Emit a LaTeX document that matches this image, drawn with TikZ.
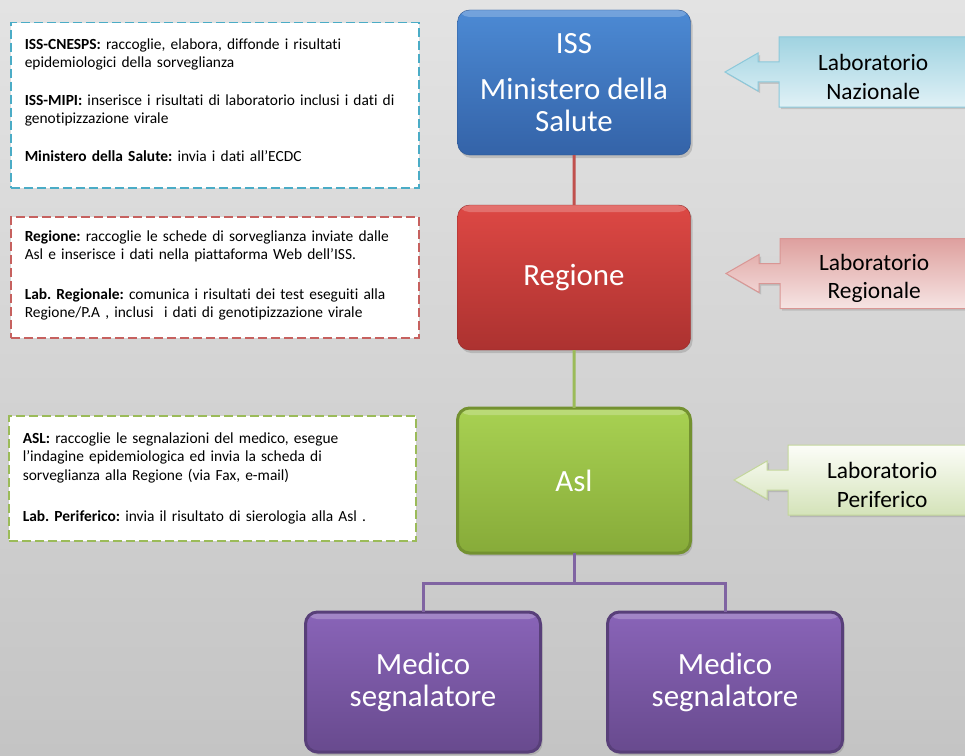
\documentclass[tikz,border=0pt]{standalone}
\usepackage{fontspec}
\setmainfont{Carlito}[Ligatures=NoCommon]
\usepackage{tikz}
\usetikzlibrary{arrows.meta, positioning, trees, shadows}
\frenchspacing

\definecolor{bgtop}{RGB}{227,227,227}
\definecolor{bgbot}{RGB}{196,196,196}
\definecolor{isstop}{RGB}{76,138,212}
\definecolor{issbot}{RGB}{52,99,168}
\definecolor{regtop}{RGB}{221,72,68}
\definecolor{regbot}{RGB}{172,50,48}
\definecolor{asltop}{RGB}{168,209,82}
\definecolor{aslbot}{RGB}{135,171,57}
\definecolor{medtop}{RGB}{137,100,184}
\definecolor{medbot}{RGB}{104,74,142}
\definecolor{redline}{RGB}{192,80,77}
\definecolor{greenline}{RGB}{155,187,89}
\definecolor{purpline}{RGB}{128,100,162}
\definecolor{cyanline}{RGB}{75,172,198}
\definecolor{nazA}{RGB}{224,241,246}
\definecolor{nazB}{RGB}{160,211,225}
\definecolor{nazline}{RGB}{140,200,218}
\definecolor{regA}{RGB}{246,228,228}
\definecolor{regB}{RGB}{222,160,158}
\definecolor{pinkline}{RGB}{217,150,148}
\definecolor{perA}{RGB}{252,253,248}
\definecolor{perB}{RGB}{212,227,185}
\definecolor{limeline}{RGB}{195,214,155}

\begin{document}
\begin{tikzpicture}[x=1bp, y=-1bp,
    bigbox/.style={rectangle, rounded corners=12bp, minimum width=233bp, minimum height=145bp,
        align=center, text=white, font=\fontsize{31}{32}\selectfont,
        drop shadow={opacity=.35, shadow xshift=2bp, shadow yshift=-3bp},
        path picture={\fill[white, opacity=.22] (path picture bounding box.north west)
            rectangle ([yshift=-7bp]path picture bounding box.north east);}},
    issbox/.style={bigbox, draw=issbot!85!black, top color=isstop, bottom color=issbot},
    regbox/.style={bigbox, draw=regbot!85!black, top color=regtop, bottom color=regbot},
    aslbox/.style={bigbox, draw=aslbot!85!black, top color=asltop, bottom color=aslbot},
    medbox/.style={bigbox, minimum width=235bp, minimum height=140bp, draw=medbot!85!black,
        top color=medtop, bottom color=medbot},
    note/.style={rectangle, fill=white, line width=1.5bp, dash pattern=on 9bp off 4bp,
        anchor=north west, align=left, inner xsep=14bp, text width=380bp,
        font=\fontsize{15.5}{18.5}\selectfont},
    callout/.style={line width=1bp, drop shadow={opacity=.3, shadow xshift=2bp, shadow yshift=-2bp}},
    nazcall/.style={draw=nazline, top color=nazB, bottom color=nazA},
    regcall/.style={draw=pinkline, top color=regB, bottom color=regA},
    percall/.style={draw=limeline, top color=perA, bottom color=perB},
    labtext/.style={minimum width=188bp, minimum height=70bp, inner sep=0pt, align=center,
        font=\fontsize{23.5}{28.5}\selectfont},
    level 1/.style={level distance=195bp, edge from parent/.style={draw=redline, line width=3bp}},
    level 2/.style={level distance=203bp, edge from parent/.style={draw=greenline, line width=3bp}},
    level 3/.style={level distance=201.5bp, sibling distance=302bp,
        edge from parent/.style={draw=purpline, line width=3bp},
        edge from parent path={(\tikzparentnode.south) -- ++(0,30) -| (\tikzchildnode.north)}}]

% background
\useasboundingbox (0,0) rectangle (965,756);
\fill[top color=bgtop, bottom color=bgbot] (0,0) rectangle (965,756);

% notes on the left
\node[note, draw=cyanline, minimum height=165bp, execute at end node={\par\vspace*{10bp}}] (issnote) at (10,22)
    {\textbf{ISS-CNESPS:} raccoglie, elabora, diffonde i risultati\\
     epidemiologici della sorveglianza\\[19.5bp]
     \textbf{ISS-MIPI:} inserisce i risultati di laboratorio inclusi i dati di\\
     genotipizzazione virale\\[19.5bp]
     \textbf{Ministero della Salute:} invia i dati all’ECDC};
\node[note, draw=redline!90!white, minimum height=121bp, execute at end node={\par\vspace*{4bp}}] (regnote) at (10,216)
    {\textbf{Regione:} raccoglie le schede di sorveglianza inviate dalle\\
     Asl e inserisce i dati nella piattaforma Web dell’ISS.\\[21bp]
     \textbf{Lab. Regionale:} comunica i risultati dei test eseguiti alla\\
     Regione/P.A , inclusi~ i dati di genotipizzazione virale};
\node[note, draw=greenline, minimum height=125bp, text width=379bp] (aslnote) at (8,415)
    {\textbf{ASL:} raccoglie le segnalazioni del medico, esegue\\
     l’indagine epidemiologica ed invia la scheda di\\
     sorveglianza alla Regione (via Fax, e-mail)\\[23bp]
     \textbf{Lab. Periferico:} invia il risultato di sierologia alla Asl .};

% the chain
\node[issbox] (iss) at (574,82.5) {ISS\\[15bp]Ministero della\\Salute}
    child {node[regbox] (regione) {Regione}
        child {node[aslbox] (asl) {Asl}
            child {node[medbox] (medico1) {Medico\\segnalatore}}
            child {node[medbox] (medico2) {Medico\\segnalatore}}
        }
    };

% laboratories
\foreach \lab/\xx/\yy/\tint/\txt in {naz/779/72/nazcall/{Laboratorio\\Nazionale},
        reg/780/273.5/regcall/{Laboratorio\\Regionale},
        per/788/480/percall/{Laboratorio\\Periferico}} {
    \coordinate (\lab) at (\xx,\yy);
    \draw[callout, \tint] (\lab) ++(0,-35) -- ++(188,0) -- ++(0,70) -- ++(-188,0)
        -- ++(0,-25) -- ++(-21,0) -- ++(0,9) -- ++(-33,-19) -- ++(33,-19)
        -- ++(0,9) -- ++(21,0) -- cycle;
    \node[labtext, right=0pt of \lab, yshift=-5bp] (\lab text) {\txt};
}
\end{tikzpicture}
\end{document}
